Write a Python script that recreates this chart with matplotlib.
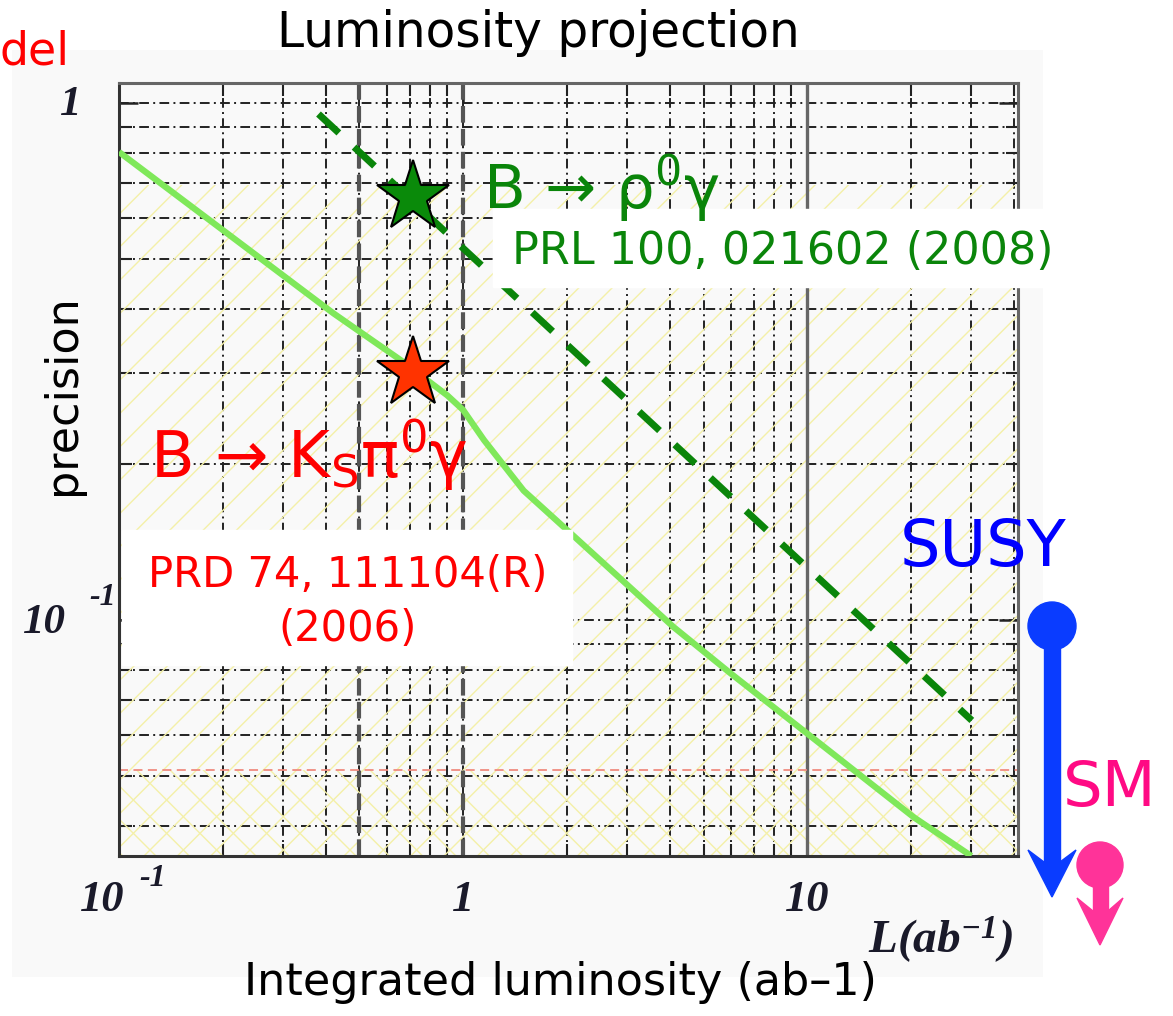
import matplotlib
matplotlib.use('Agg')
import matplotlib.pyplot as plt
from matplotlib.patches import Rectangle, Circle, Polygon
from matplotlib.ticker import LogLocator, NullFormatter

# ---------------- data ----------------
proj_lumi = [0.1, 0.42, 0.66, 0.9, 1.0, 1.15, 1.5, 2.06, 4.09, 5.98, 20.4, 30.0]
proj_precision = [0.804, 0.392, 0.318, 0.272, 0.255, 0.223, 0.178, 0.147, 0.097, 0.079, 0.0416, 0.035]

rho_lumi = [0.38, 30.1]
rho_precision = [0.952, 0.064]

star_lumi = [0.716]
star_rho = [0.658]
star_ks = [0.30]

sm_level = 0.0513
hatch_top = 0.694

x_limits = [0.1, 41.0]
y_limits = [0.035, 1.093]

x_tick_values = [0.1, 1, 10]
x_tick_bases = ['10', '1', '10']
x_tick_exps = ['-1', '', '']
y_tick_values = [1, 0.1]
y_tick_bases = ['1', '10']
y_tick_exps = ['', '-1']

W, H = 1173, 1016
plt.rcParams['font.family'] = ['DejaVu Sans']
plt.rcParams['mathtext.default'] = 'regular'
plt.rcParams['mathtext.fontset'] = 'custom'
plt.rcParams['mathtext.bf'] = 'Liberation Serif:italic:bold'
plt.rcParams['hatch.linewidth'] = 1.0

fig = plt.figure(figsize=(W / 100, H / 100), dpi=100)
fig.patch.set_facecolor('white')

# background panel (light grey image area)
bg = fig.add_axes([12 / W, 1 - 977 / H, (1043 - 12) / W, (977 - 50) / H])
bg.set_facecolor('#f9f9f9')
bg.axis('off')
bg.add_patch(Rectangle((0, 0), 1, 1, transform=bg.transAxes, color='#f9f9f9'))

# main axes
ax = fig.add_axes([119 / W, 1 - 856 / H, (1018 - 119) / W, (856 - 83) / H])
ax.set_facecolor('#f9f9f9')
ax.set_xscale('log')
ax.set_yscale('log')
ax.set_xlim(*x_limits)
ax.set_ylim(*y_limits)

ax.xaxis.set_major_locator(LogLocator(base=10, numticks=10))
ax.xaxis.set_minor_locator(LogLocator(base=10, subs=range(2, 10), numticks=20))
ax.yaxis.set_major_locator(LogLocator(base=10, numticks=10))
ax.yaxis.set_minor_locator(LogLocator(base=10, subs=range(2, 10), numticks=20))
ax.xaxis.set_minor_formatter(NullFormatter())
ax.yaxis.set_minor_formatter(NullFormatter())
ax.tick_params(which='both', direction='in', top=True, right=True,
               labelbottom=False, labelleft=False, color='#222222')
ax.tick_params(which='major', length=14, width=1.8)
ax.tick_params(which='minor', length=9, width=1.5)
for name, s in ax.spines.items():
    s.set_color('#333333' if name in ('left', 'bottom') else '#666666')
    s.set_linewidth(2.2)

ax.grid(which='both', color='#222222', linewidth=1.4, linestyle=(0, (5, 2.2, 1, 2.2)), zorder=1.5)
ax.set_axisbelow(True)

# hatched regions
ax.fill_between(x_limits, [y_limits[0]] * 2, [hatch_top] * 2, facecolor='none',
                edgecolor='#f4f0a8', hatch='/', linewidth=0, zorder=0.6)
ax.fill_between(x_limits, [y_limits[0]] * 2, [sm_level] * 2, facecolor='none',
                edgecolor='#f4f0a8', hatch='\\', linewidth=0, zorder=0.6)
ax.axhline(sm_level, color='#f08c80', linewidth=1.3, linestyle=(0, (5, 3)), zorder=2)

# special vertical lines
for xv in [0.5, 1.0]:
    ax.axvline(xv, color='#555555', linewidth=3, linestyle=(0, (4, 1.5)), zorder=1.7)
ax.axvline(10, color='#666666', linewidth=2.4, zorder=1.7)

# curves
ax.plot(proj_lumi, proj_precision, color='#7fe85a', linewidth=4.5, zorder=3, solid_capstyle='butt')
ax.plot(rho_lumi, rho_precision, color='#0a850a', linewidth=5, linestyle=(0, (4, 3)), zorder=3)

# stars
ax.plot(star_lumi, star_rho, marker='*', markersize=54, color='#0a8a0a',
        markeredgecolor='black', markeredgewidth=1.5, linestyle='none', zorder=4)
ax.plot(star_lumi, star_ks, marker='*', markersize=54, color='#ff3300',
        markeredgecolor='black', markeredgewidth=1.5, linestyle='none', zorder=4)

# tick labels (bold italic serif)
tfont = dict(family='Liberation Serif', style='italic', weight='bold', color='#1a1a2a')
for xv, b, e in zip(x_tick_values, x_tick_bases, x_tick_exps):
    dx = -17 if e else 0
    ax.annotate(b, xy=(xv, 0), xycoords=('data', 'axes fraction'), xytext=(dx, -44),
                textcoords='offset pixels', ha='center', va='center', fontsize=32, **tfont)
    if e:
        ax.annotate(e, xy=(xv, 0), xycoords=('data', 'axes fraction'), xytext=(34, -22),
                    textcoords='offset pixels', ha='center', va='center', fontsize=23, **tfont)
for yv, b, e in zip(y_tick_values, y_tick_bases, y_tick_exps):
    if e:
        ax.annotate(b, xy=(0, yv), xycoords=('axes fraction', 'data'), xytext=(-75, -3),
                    textcoords='offset pixels', ha='center', va='center', fontsize=31, **tfont)
        ax.annotate(e, xy=(0, yv), xycoords=('axes fraction', 'data'), xytext=(-16, 23),
                    textcoords='offset pixels', ha='center', va='center', fontsize=23, **tfont)
    else:
        ax.annotate(b, xy=(0, yv), xycoords=('axes fraction', 'data'), xytext=(-48, -2),
                    textcoords='offset pixels', ha='center', va='center', fontsize=31, **tfont)
ax.annotate(r'$\mathbf{L(ab^{-1})}$', xy=(1, 0), xycoords='axes fraction', xytext=(-78, -84),
            textcoords='offset pixels', ha='center', va='center', fontsize=34, color='#1a1a2a')

# overlay in pixel coordinates
ov = fig.add_axes([0, 0, 1, 1])
ov.set_xlim(0, W)
ov.set_ylim(H, 0)
ov.axis('off')
ov.patch.set_alpha(0)

# white label boxes
ov.add_patch(Rectangle((493, 209), 580, 78, color='white', zorder=2))
ov.add_patch(Rectangle((122, 530), 450, 135, color='white', zorder=2))

ov.text(538, 33, 'Luminosity projection', ha='center', va='center', fontsize=35, color='black')
ov.text(0, 52, 'del', ha='left', va='center', fontsize=33, color='#ff0000')
ov.text(62, 395, 'precision', ha='center', va='center', rotation=90, fontsize=32, color='black')
ov.text(560, 982, 'Integrated luminosity (ab–1)', ha='center', va='center', fontsize=32, color='black')

ov.text(483, 188, 'B → ρ$^{0}$γ', ha='left', va='center', fontsize=44, color='#0a850a', zorder=5)
ov.text(783, 252, 'PRL 100, 021602 (2008)', ha='center', va='center', fontsize=32, color='#0a850a', zorder=5)
ov.text(150, 455, 'B → K$_{S}$π$^{0}$γ', ha='left', va='center', fontsize=46, color='#ff0000', zorder=5)
ov.text(348, 602, 'PRD 74, 111104(R)\n(2006)', ha='center', va='center', fontsize=30,
        color='#ff0000', linespacing=1.35, zorder=5)
ov.text(900, 548, 'SUSY', ha='left', va='center', fontsize=46, color='#0000ff', zorder=5)
ov.text(1063, 789, 'SM', ha='left', va='center', fontsize=45, color='#ff0a84', zorder=5)

# blue SUSY -> SM arrow
blue = '#0a3cff'
ov.add_patch(Circle((1052, 626), 24, color=blue, zorder=4))
ov.add_patch(Rectangle((1044, 626), 16, 238, color=blue, zorder=4))
ov.add_patch(Polygon([(1044, 862), (1028, 850), (1052, 897), (1076, 850), (1060, 862)],
                     closed=True, color=blue, zorder=4))
# pink SM arrow
pink = '#ff3399'
ov.add_patch(Circle((1100, 865), 23, color=pink, zorder=4))
ov.add_patch(Rectangle((1093, 865), 15, 48, color=pink, zorder=4))
ov.add_patch(Polygon([(1093, 911), (1077, 898), (1100, 945), (1123, 898), (1108, 911)],
                     closed=True, color=pink, zorder=4))

fig.savefig('out.png', dpi=100)
